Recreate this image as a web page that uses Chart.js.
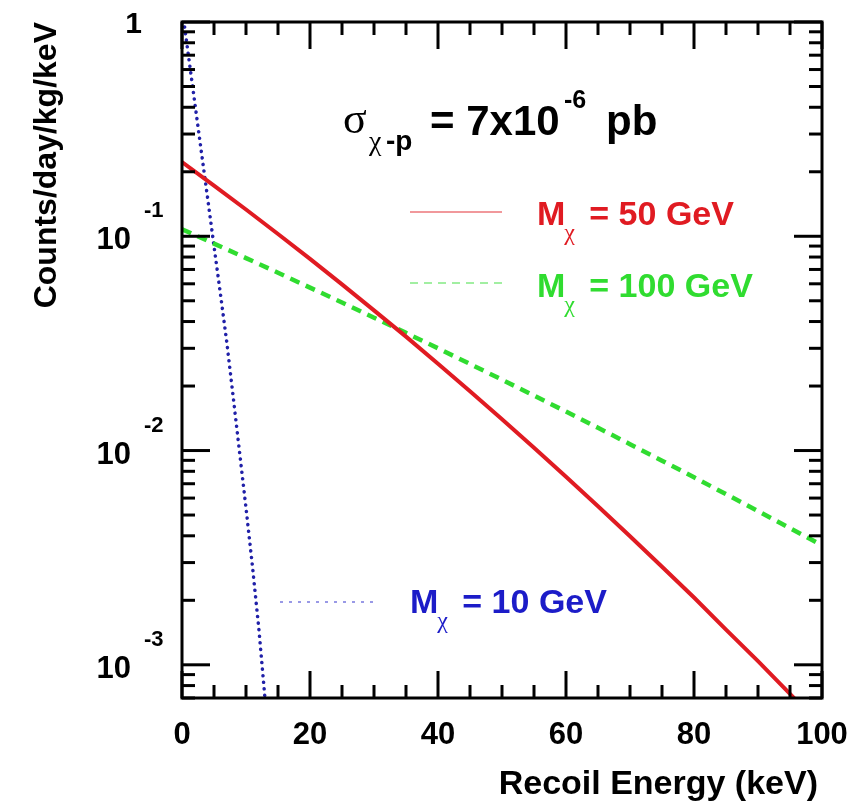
<!DOCTYPE html>
<html>
<head>
<meta charset="utf-8">
<script src="https://cdn.jsdelivr.net/npm/chart.js@4/dist/chart.umd.min.js"></script>
<style>
  html, body { margin: 0; padding: 0; background: #fff; }
  #wrap { width: 865px; height: 803px; }
</style>
</head>
<body>
<div id="wrap"><canvas id="c" width="865" height="803"></canvas></div>
<script>
// ---- data ----
const energyKeV = [0, 5, 10, 15, 20, 25, 30, 35, 40, 45, 50, 55, 60, 65, 70, 75, 80, 85, 90, 95, 100];
const rate50GeV = [0.222, 0.1724, 0.1333, 0.1025, 0.0784, 0.0596, 0.0451, 0.0340, 0.0254, 0.0189, 0.0140,
                   0.0103, 0.00754, 0.00550, 0.00398, 0.00287, 0.00206, 0.00146, 0.00104, 0.000731, 0.000513];
const rate100GeV = [0.1079, 0.0924, 0.0791, 0.0676, 0.0576, 0.0491, 0.0417, 0.0354, 0.0300, 0.02535, 0.02141,
                    0.01805, 0.01520, 0.01277, 0.01071, 0.00897, 0.00750, 0.00626, 0.00522, 0.00434, 0.00361];
const energy10GeV = [0, 1, 2, 3, 4, 5, 6, 7, 8, 9, 10, 11, 12, 13, 14];
const rate10GeV = [1.17, 0.70, 0.42, 0.251, 0.151, 0.090, 0.054, 0.032, 0.0178, 0.0098, 0.0054, 0.0029, 0.00148, 0.00068, 0.00030];
const xTickLabels = [0, 20, 40, 60, 80, 100];
const yTickPowers = [0, -1, -2, -3];
const seriesNames = ['M\u03C7 = 50 GeV', 'M\u03C7 = 100 GeV', 'M\u03C7 = 10 GeV'];

const RED = '#e01b22', GREEN = '#30dc30', BLUE = '#1c1cc8', BLUE_LINE = '#2020a8';
const SANS = "'Liberation Sans', Arial, Helvetica, sans-serif";
const SERIF = "'Liberation Serif', 'Times New Roman', serif";

function pts(xs, ys) { return xs.map((v, i) => ({ x: v, y: ys[i] })); }

const decorPlugin = {
  id: 'decor',
  afterDatasetsDraw(chart) {
    const { ctx, chartArea: a, scales: { x, y } } = chart;
    ctx.save();
    const seg = (x1, y1, x2, y2) => { ctx.beginPath(); ctx.moveTo(x1, y1); ctx.lineTo(x2, y2); ctx.stroke(); };
    ctx.strokeStyle = '#000';
    ctx.lineWidth = 3;
    ctx.lineCap = 'butt';
    // x ticks (bottom & top, inside)
    for (let v = 0; v <= 100; v += 5) {
      const px = x.getPixelForValue(v);
      const len = (v % 20 === 0) ? 27 : 13;
      seg(px, a.bottom, px, a.bottom - len);
      seg(px, a.top, px, a.top + len);
    }
    // y ticks (left & right, inside)
    for (let p = -4; p <= 0; p++) {
      for (let m = 1; m <= 9; m++) {
        const v = m * Math.pow(10, p);
        if (v < y.min * 0.999 || v > y.max * 1.001) continue;
        const py = y.getPixelForValue(v);
        const len = (m === 1) ? 28 : 13;
        seg(a.left, py, a.left + len, py);
        seg(a.right, py, a.right - len, py);
      }
    }
    // frame
    ctx.lineWidth = 3;
    ctx.strokeRect(a.left, a.top, a.right - a.left, a.bottom - a.top);

    // tick labels
    ctx.fillStyle = '#000';
    ctx.textBaseline = 'alphabetic';
    ctx.font = 'bold 31px ' + SANS;
    ctx.textAlign = 'center';
    xTickLabels.forEach(v => ctx.fillText(String(v), x.getPixelForValue(v), 744));
    yTickPowers.forEach(p => {
      const py = y.getPixelForValue(Math.pow(10, p));
      if (p === 0) {
        ctx.font = 'bold 30px ' + SANS;
        ctx.textAlign = 'right';
        ctx.fillText('1', 142, py + 11);
      } else {
        ctx.font = 'bold 31px ' + SANS;
        ctx.textAlign = 'right';
        ctx.fillText('10', 131, py + 13);
        ctx.font = 'bold 22px ' + SANS;
        ctx.textAlign = 'left';
        ctx.fillText(String(p), 144, py - 19);
      }
    });

    // axis titles
    ctx.font = 'bold 34px ' + SANS;
    ctx.textAlign = 'right';
    ctx.fillText('Recoil Energy (keV)', 818, 794);
    ctx.save();
    ctx.translate(56, 22);
    ctx.rotate(-Math.PI / 2);
    ctx.font = 'bold 32px ' + SANS;
    ctx.textAlign = 'right';
    ctx.fillText('Counts/day/kg/keV', 0, 0);
    ctx.restore();

    // cross-section annotation
    ctx.textAlign = 'left';
    ctx.font = '44px ' + SERIF;
    ctx.fillText('\u03C3', 343, 133);
    ctx.font = '28px ' + SERIF;
    ctx.fillText('\u03C7', 369, 150);
    ctx.font = 'bold 28px ' + SANS;
    ctx.fillText('-p', 386, 150);
    ctx.font = 'bold 42px ' + SANS;
    ctx.fillText('= 7x10', 430, 135);
    ctx.font = 'bold 25px ' + SANS;
    ctx.fillText('-6', 564, 108);
    ctx.font = 'bold 42px ' + SANS;
    ctx.fillText('pb', 606, 135);

    // legend entries
    const entry = (label, color, dash, lx1, lx2, ly, tx, ty) => {
      ctx.save();
      ctx.strokeStyle = color;
      ctx.globalAlpha = 0.45;
      ctx.lineWidth = 2;
      ctx.setLineDash(dash);
      seg(lx1, ly, lx2, ly);
      ctx.restore();
      ctx.fillStyle = color;
      ctx.textAlign = 'left';
      ctx.font = 'bold 34px ' + SANS;
      ctx.fillText('M', tx, ty);
      const mw = ctx.measureText('M').width;
      ctx.font = '24px ' + SERIF;
      ctx.fillText('\u03C7', tx + mw - 1, ty + 15);
      ctx.font = 'bold 34px ' + SANS;
      ctx.fillText(label.replace('M\u03C7 ', ''), tx + mw + 24, ty);
    };
    entry(seriesNames[0], RED, [], 410, 502, 212, 537, 225);
    entry(seriesNames[1], GREEN, [8, 6], 410, 502, 283, 537, 297);
    entry(seriesNames[2], BLUE, [3, 6], 280, 375, 602, 410, 613);
    ctx.restore();
  }
};

new Chart(document.getElementById('c'), {
  type: 'scatter',
  data: {
    datasets: [
      { label: seriesNames[0], data: pts(energyKeV, rate50GeV), showLine: true, borderColor: RED,
        borderWidth: 4, pointRadius: 0, tension: 0 },
      { label: seriesNames[1], data: pts(energyKeV, rate100GeV), showLine: true, borderColor: GREEN,
        borderWidth: 4.5, borderDash: [10, 7], pointRadius: 0, tension: 0 },
      { label: seriesNames[2], data: pts(energy10GeV, rate10GeV), showLine: true, borderColor: BLUE_LINE,
        borderWidth: 3.5, borderDash: [0.1, 6.5], borderCapStyle: 'round', pointRadius: 0, tension: 0 }
    ]
  },
  options: {
    responsive: false,
    devicePixelRatio: 1,
    animation: false,
    layout: { padding: { left: 182, right: 43, top: 22, bottom: 105 } },
    plugins: { legend: { display: false }, tooltip: { enabled: false } },
    scales: {
      x: { type: 'linear', min: 0, max: 100, display: false },
      y: { type: 'logarithmic', min: 0.0007, max: 1, display: false }
    }
  },
  plugins: [decorPlugin]
});
</script>
</body>
</html>
